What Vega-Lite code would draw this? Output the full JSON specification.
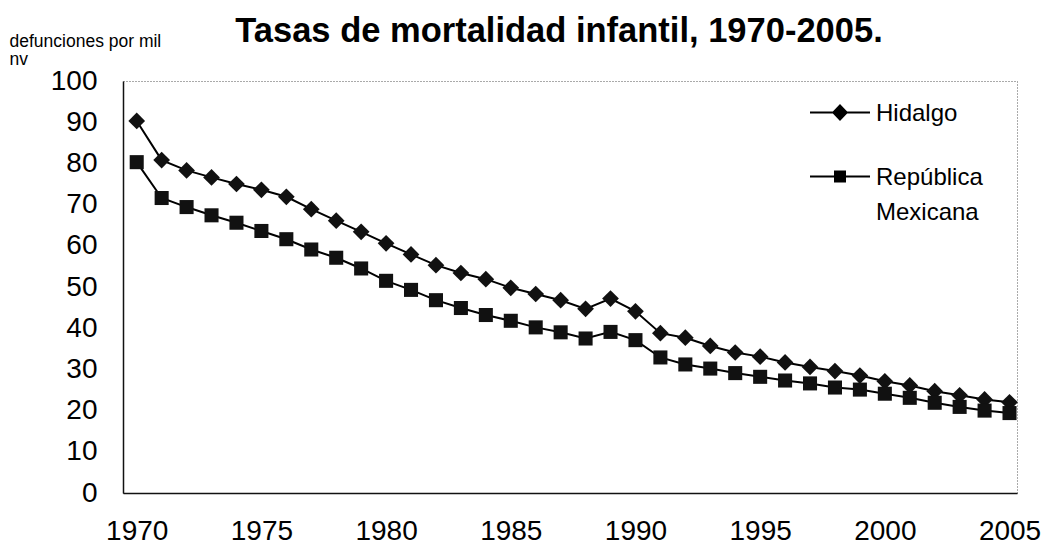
{
  "$schema": "https://vega.github.io/schema/vega-lite/v6.json",
  "autosize": "none",
  "width": 894,
  "height": 412,
  "padding": {"left": 123, "top": 81, "right": 33, "bottom": 63},
  "background": "white",
  "config": {
    "font": "Liberation Sans",
    "view": {"stroke": "#555", "strokeDash": [1, 2], "strokeWidth": 1},
    "style": {"guide-label": {"lineHeight": 35}}
  },
  "title": {
    "text": "Tasas de mortalidad infantil, 1970-2005.",
    "fontSize": 34.5,
    "fontWeight": "bold",
    "color": "black",
    "anchor": "middle",
    "frame": "group",
    "dx": -11,
    "offset": 0,
    "dy": 44,
    "baseline": "alphabetic"
  },
  "datasets": {
    "tasas": [
      {"year": 1970, "serie": "Hidalgo", "tasa": 90.3},
      {"year": 1971, "serie": "Hidalgo", "tasa": 80.8},
      {"year": 1972, "serie": "Hidalgo", "tasa": 78.3},
      {"year": 1973, "serie": "Hidalgo", "tasa": 76.6},
      {"year": 1974, "serie": "Hidalgo", "tasa": 75.0},
      {"year": 1975, "serie": "Hidalgo", "tasa": 73.6},
      {"year": 1976, "serie": "Hidalgo", "tasa": 71.9},
      {"year": 1977, "serie": "Hidalgo", "tasa": 68.9},
      {"year": 1978, "serie": "Hidalgo", "tasa": 66.1},
      {"year": 1979, "serie": "Hidalgo", "tasa": 63.4},
      {"year": 1980, "serie": "Hidalgo", "tasa": 60.6},
      {"year": 1981, "serie": "Hidalgo", "tasa": 57.9},
      {"year": 1982, "serie": "Hidalgo", "tasa": 55.3},
      {"year": 1983, "serie": "Hidalgo", "tasa": 53.4},
      {"year": 1984, "serie": "Hidalgo", "tasa": 51.9},
      {"year": 1985, "serie": "Hidalgo", "tasa": 49.8},
      {"year": 1986, "serie": "Hidalgo", "tasa": 48.3},
      {"year": 1987, "serie": "Hidalgo", "tasa": 46.8},
      {"year": 1988, "serie": "Hidalgo", "tasa": 44.7},
      {"year": 1989, "serie": "Hidalgo", "tasa": 47.2},
      {"year": 1990, "serie": "Hidalgo", "tasa": 44.1},
      {"year": 1991, "serie": "Hidalgo", "tasa": 38.8},
      {"year": 1992, "serie": "Hidalgo", "tasa": 37.7},
      {"year": 1993, "serie": "Hidalgo", "tasa": 35.7},
      {"year": 1994, "serie": "Hidalgo", "tasa": 34.1},
      {"year": 1995, "serie": "Hidalgo", "tasa": 33.1},
      {"year": 1996, "serie": "Hidalgo", "tasa": 31.7},
      {"year": 1997, "serie": "Hidalgo", "tasa": 30.6},
      {"year": 1998, "serie": "Hidalgo", "tasa": 29.6},
      {"year": 1999, "serie": "Hidalgo", "tasa": 28.5},
      {"year": 2000, "serie": "Hidalgo", "tasa": 27.1},
      {"year": 2001, "serie": "Hidalgo", "tasa": 26.1},
      {"year": 2002, "serie": "Hidalgo", "tasa": 24.7},
      {"year": 2003, "serie": "Hidalgo", "tasa": 23.7},
      {"year": 2004, "serie": "Hidalgo", "tasa": 22.7},
      {"year": 2005, "serie": "Hidalgo", "tasa": 22.0},
      {"year": 1970, "serie": "República Mexicana", "tasa": 80.3},
      {"year": 1971, "serie": "República Mexicana", "tasa": 71.6},
      {"year": 1972, "serie": "República Mexicana", "tasa": 69.4},
      {"year": 1973, "serie": "República Mexicana", "tasa": 67.4},
      {"year": 1974, "serie": "República Mexicana", "tasa": 65.6},
      {"year": 1975, "serie": "República Mexicana", "tasa": 63.6},
      {"year": 1976, "serie": "República Mexicana", "tasa": 61.6},
      {"year": 1977, "serie": "República Mexicana", "tasa": 59.1},
      {"year": 1978, "serie": "República Mexicana", "tasa": 57.1},
      {"year": 1979, "serie": "República Mexicana", "tasa": 54.5},
      {"year": 1980, "serie": "República Mexicana", "tasa": 51.5},
      {"year": 1981, "serie": "República Mexicana", "tasa": 49.3},
      {"year": 1982, "serie": "República Mexicana", "tasa": 46.8},
      {"year": 1983, "serie": "República Mexicana", "tasa": 44.9},
      {"year": 1984, "serie": "República Mexicana", "tasa": 43.2},
      {"year": 1985, "serie": "República Mexicana", "tasa": 41.8},
      {"year": 1986, "serie": "República Mexicana", "tasa": 40.2},
      {"year": 1987, "serie": "República Mexicana", "tasa": 39.0},
      {"year": 1988, "serie": "República Mexicana", "tasa": 37.5},
      {"year": 1989, "serie": "República Mexicana", "tasa": 39.1},
      {"year": 1990, "serie": "República Mexicana", "tasa": 37.1},
      {"year": 1991, "serie": "República Mexicana", "tasa": 32.9},
      {"year": 1992, "serie": "República Mexicana", "tasa": 31.2},
      {"year": 1993, "serie": "República Mexicana", "tasa": 30.2},
      {"year": 1994, "serie": "República Mexicana", "tasa": 29.1},
      {"year": 1995, "serie": "República Mexicana", "tasa": 28.2},
      {"year": 1996, "serie": "República Mexicana", "tasa": 27.3},
      {"year": 1997, "serie": "República Mexicana", "tasa": 26.6},
      {"year": 1998, "serie": "República Mexicana", "tasa": 25.6},
      {"year": 1999, "serie": "República Mexicana", "tasa": 25.1},
      {"year": 2000, "serie": "República Mexicana", "tasa": 24.1},
      {"year": 2001, "serie": "República Mexicana", "tasa": 23.1},
      {"year": 2002, "serie": "República Mexicana", "tasa": 21.9},
      {"year": 2003, "serie": "República Mexicana", "tasa": 20.9},
      {"year": 2004, "serie": "República Mexicana", "tasa": 20.0},
      {"year": 2005, "serie": "República Mexicana", "tasa": 19.4}
    ]
  },
  "data": {"name": "tasas"},
  "encoding": {
    "x": {
      "field": "year",
      "type": "quantitative",
      "scale": {"domain": [1969.45, 2005.3], "nice": false, "zero": false},
      "axis": {
        "title": null,
        "values": [1970, 1975, 1980, 1985, 1990, 1995, 2000, 2005],
        "format": "d",
        "labelFontSize": 28,
        "labelColor": "black",
        "labelPadding": 24,
        "tickSize": 0,
        "grid": false,
        "domainColor": "#111",
        "domainWidth": 1.5,
        "labelFlush": false,
        "labelOverlap": false
      }
    },
    "y": {
      "field": "tasa",
      "type": "quantitative",
      "scale": {"domain": [0, 100], "nice": false},
      "axis": {
        "title": ["defunciones por mil", "nv"],
        "titleAngle": 0,
        "titleAlign": "left",
        "titleBaseline": "alphabetic",
        "titleX": -114,
        "titleY": -35,
        "titleFontSize": 17.5,
        "titleFontWeight": "normal",
        "titleColor": "black",
        "titleLineHeight": 18,
        "values": [0, 10, 20, 30, 40, 50, 60, 70, 80, 90, 100],
        "labelFontSize": 28,
        "labelColor": "black",
        "labelPadding": 26,
        "tickSize": 0,
        "grid": false,
        "domainColor": "#111",
        "domainWidth": 1.5
      }
    }
  },
  "resolve": {"scale": {"shape": "independent"}},
  "layer": [
    {
      "mark": {"type": "line", "color": "black", "strokeWidth": 2},
      "encoding": {"detail": {"field": "serie", "type": "nominal"}}
    },
    {
      "mark": {"type": "point", "filled": true, "opacity": 1, "color": "#111111", "size": 280},
      "encoding": {
        "shape": {
          "field": "serie",
          "type": "nominal",
          "scale": {"domain": ["Hidalgo", "República Mexicana"], "range": ["diamond", "M-0.84,-0.84H0.84V0.84H-0.84Z"]},
          "legend": null
        }
      }
    },
    {
      "mark": {"type": "point", "filled": true, "opacity": 0, "color": "black", "size": 3600},
      "encoding": {
        "shape": {
          "field": "serie",
          "type": "nominal",
          "scale": {
            "domain": ["Hidalgo", "República Mexicana"],
            "range": [
              "M-1,-0.316H1V-0.25H-1ZM0,-0.563L0.27,-0.283L0,-0.003L-0.27,-0.283Z",
              "M-1,-0.316H1V-0.25H-1ZM-0.2,-0.483H0.2V-0.083H-0.2Z"
            ]
          },
          "legend": {
            "title": null,
            "orient": "none",
            "legendX": 687,
            "legendY": 10,
            "labelFontSize": 24,
            "labelColor": "black",
            "labelBaseline": "alphabetic",
            "labelLimit": 300,
            "labelOffset": 6,
            "rowPadding": 29,
            "symbolSize": 3600,
            "symbolOpacity": 1,
            "symbolFillColor": "black",
            "symbolStrokeColor": "black",
            "symbolStrokeWidth": 0,
            "labelExpr": "datum.label == 'República Mexicana' ? ['República', 'Mexicana'] : datum.label"
          }
        }
      }
    }
  ]
}
